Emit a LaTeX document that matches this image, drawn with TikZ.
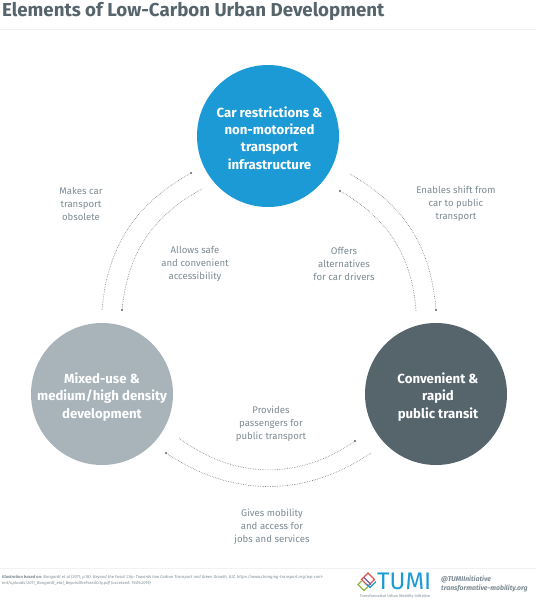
\documentclass[tikz,border=0pt]{standalone}
\usepackage{fontspec}
\setmainfont{Fira Sans}
\usetikzlibrary{arrows.meta}
\definecolor{tblue}{HTML}{1C9AD6}
\definecolor{tdark}{HTML}{56646C}
\definecolor{tgray}{HTML}{A8B4BA}
\definecolor{ttext}{HTML}{7C8A92}
\definecolor{tline}{HTML}{F0F2F3}
\definecolor{lred}{HTML}{D9534F}
\definecolor{lgreen}{HTML}{8DB73F}
\definecolor{lteal}{HTML}{1C9AD6}
\definecolor{lpurple}{HTML}{7A5A9E}
\tikzset{
  x=1pt,y=-1pt,
  hub/.style={circle,minimum size=142pt,inner sep=0pt},
  hubtext/.style={text=white,align=center,inner sep=0pt,font=\fontsize{13.2}{17.2}\selectfont\bfseries},
  lbl/.style={text=ttext,align=center,inner sep=0pt,font=\fontsize{9.6}{13.2}\selectfont},
  flow/.style={draw=tdark!85,line width=0.65pt,dash pattern=on 0.6pt off 1.1pt},
  flowdot/.style={circle,fill=tdark,inner sep=0pt,minimum size=2.2pt},
  logo/.style={line width=1.3pt,fill=none,line join=miter},
}
\begin{document}
\begin{tikzpicture}
\useasboundingbox (0,0) rectangle (536,600);
\node[anchor=west,inner sep=0pt,text=tdark,font=\fontsize{18.7}{22}\selectfont\bfseries] (title) at (2,11) {Elements of Low-Carbon Urban Development};
\coordinate (tl) at (0,29); \coordinate (tr) at (536,29);
\draw[tline,line width=0.8pt] (tl) -- (tr);
\coordinate (fl) at (0,568); \coordinate (fr) at (536,568);
\draw[tline,line width=0.6pt] (fl) -- (fr);

\node[hub,fill=tblue] (top) at (268,136) {};
\node[hub,fill=tgray] (left) at (102,394) {};
\node[hub,fill=tdark] (right) at (436,394) {};
\node[hubtext] (toptext) at (269.5,138) {Car restrictions \&\\non-motorized\\transport\\infrastructure};
\node[hubtext] (lefttext) at (102,397) {Mixed-use \&\\medium/high density\\development};
\node[hubtext] (righttext) at (438,397) {Convenient \&\\rapid\\public transit};

\coordinate (ro1) at (350,174); \node[flowdot] (ro2) at (436,310) {};
\coordinate (ri1) at (416,311); \node[flowdot] (ri2) at (340,191) {};
\coordinate (lo1) at (102,310); \node[flowdot] (lo2) at (191,173) {};
\coordinate (li1) at (202,189); \node[flowdot] (li2) at (122,310) {};
\coordinate (bu1) at (179,438); \node[flowdot] (bu2) at (355,441) {};
\coordinate (bl1) at (371,453); \node[flowdot] (bl2) at (166,453) {};
\draw[flow] (ro1) to[bend left=28] (ro2.center);
\draw[flow] (ri1) to[bend right=28] (ri2.center);
\draw[flow] (lo1) to[bend left=28] (lo2.center);
\draw[flow] (li1) to[bend right=28] (li2.center);
\draw[flow] (bu1) to[bend right=36] (bu2.center);
\draw[flow] (bl1) to[bend left=34] (bl2.center);

\node[lbl] (a) at (81,204) {Makes car\\transport\\obsolete};
\node[lbl] (b) at (195,264) {Allows safe\\and convenient\\accessibility};
\node[lbl] (c) at (456,204) {Enables shift from\\car to public\\transport};
\node[lbl] (d) at (344,264) {Offers\\alternatives\\for car drivers};
\node[lbl] (e) at (271,424) {Provides\\passengers for\\public transport};
\node[lbl] (f) at (272,527) {Gives mobility\\and access for\\jobs and services};

\node[anchor=north west,inner sep=0pt,text=ttext,align=left,font=\fontsize{4.15}{6.6}\selectfont\itshape] (src) at (2,574.5) {\textbf{Illustration based on:} Bongardt et al (2011, p.18). Beyond the Fossil City: Towards low Carbon Transport and Green Growth, GIZ. https://www.changing-transport.org/wp-cont-\\ent/uploads/2011\_Bongardt\_etal\_BeyondtheFossilCity.pdf (accessed: 19.09.2019)};

% logo mark
\draw[logo,lred] (368,573) -- (361.5,579.5) -- (368,586) -- (374.5,579.5) -- cycle;
\draw[logo,lgreen] (361.5,581) -- (358,584.5) -- (364,590.5) -- (368,586.5);
\draw[logo,lpurple] (364,577.5) -- (371,584.5);
\draw[logo,lteal] (376,581.5) -- (370,587.5) -- (366.5,584);
\node[anchor=west,inner sep=0pt,text=tblue,font=\fontsize{24}{24}\selectfont] (tumi) at (377,581) {TUMI};
\node[inner sep=0pt,text=ttext,font=\fontsize{3.9}{4}\selectfont] (sub) at (395,596) {Transformative Urban Mobility Initiative};
\node[anchor=west,inner sep=0pt,text=ttext,font=\fontsize{6.9}{8}\selectfont\bfseries\itshape] (h1) at (441,579) {@TUMIInitiative};
\node[anchor=west,inner sep=0pt,text=ttext,font=\fontsize{6.9}{8}\selectfont\bfseries\itshape] (h2) at (441,588) {transformative-mobility.org};
\end{tikzpicture}
\end{document}
